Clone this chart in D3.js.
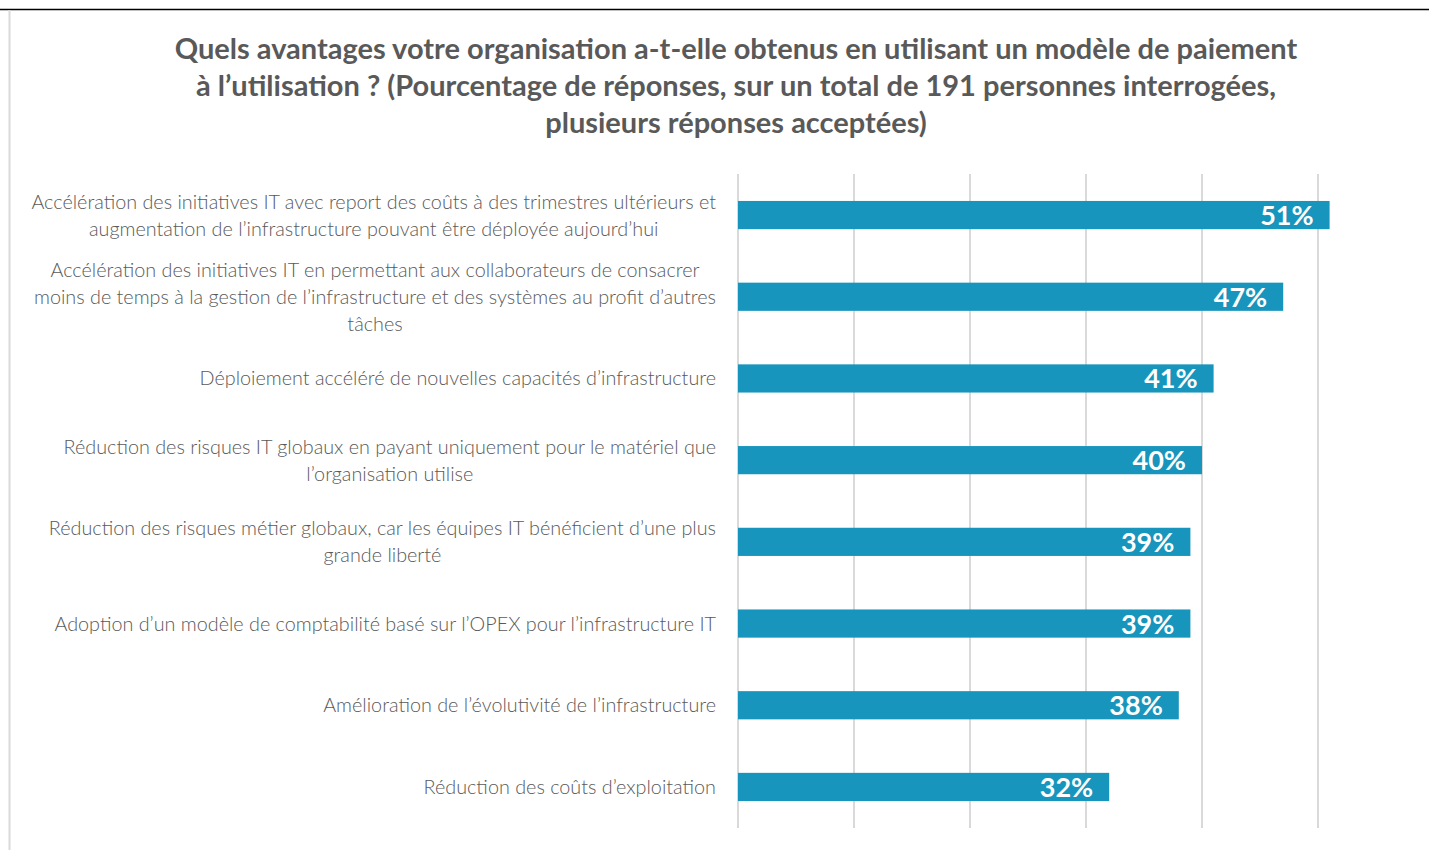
<!DOCTYPE html>
<html>
<head>
<meta charset="utf-8">
<script src="https://cdn.jsdelivr.net/npm/d3@7"></script>
<style>
  body { margin: 0; background: #fff; }
  svg { display: block; }
</style>
</head>
<body>
<div id="chart"></div>
<script>
// categories, one entry per bar, already broken into display lines
const categories = [
    ['Accélération des initiatives IT avec report des coûts à des trimestres ultérieurs et', 'augmentation de l’infrastructure pouvant être déployée aujourd’hui'],
    ['Accélération des initiatives IT en permettant aux collaborateurs de consacrer', 'moins de temps à la gestion de l’infrastructure et des systèmes au profit d’autres', 'tâches'],
    ['Déploiement accéléré de nouvelles capacités d’infrastructure'],
    ['Réduction des risques IT globaux en payant uniquement pour le matériel que', 'l’organisation utilise'],
    ['Réduction des risques métier globaux, car les équipes IT bénéficient d’une plus', 'grande liberté'],
    ['Adoption d’un modèle de comptabilité basé sur l’OPEX pour l’infrastructure IT'],
    ['Amélioration de l’évolutivité de l’infrastructure'],
    ['Réduction des coûts d’exploitation']
];
const values = [51, 47, 41, 40, 39, 39, 38, 32];
const gridTicks = [0, 10, 20, 30, 40, 50];
const titleLines = [
    'Quels avantages votre organisation a-t-elle obtenus en utilisant un modèle de paiement',
    'à l’utilisation ? (Pourcentage de réponses, sur un total de 191 personnes interrogées,',
    'plusieurs réponses acceptées)'
];

const width = 1429, height = 850;
const margin = {top: 174, right: 40, bottom: 22, left: 738};
const font = "'Source Sans Pro', 'Lato', sans-serif";

const svg = d3.select('#chart')
    .append('svg')
    .attr('width', width)
    .attr('height', height);

// frame: black rule at top, grey rule at left
svg.append('line')
    .attr('x1', 0).attr('x2', width)
    .attr('y1', 9.5).attr('y2', 9.5)
    .attr('stroke', '#000').attr('stroke-width', 1.5);
svg.append('line')
    .attr('x1', 9.5).attr('x2', 9.5)
    .attr('y1', 10).attr('y2', height)
    .attr('stroke', '#d9d9d9').attr('stroke-width', 2);

// title
svg.append('text')
    .attr('text-anchor', 'middle')
    .attr('font-family', font)
    .attr('font-weight', 700)
    .attr('font-size', 29)
    .attr('fill', '#595959')
    .selectAll('tspan')
    .data(titleLines)
    .join('tspan')
    .attr('x', 736)
    .attr('y', (d, i) => 59 + i * 37)
    .text(d => d);

const innerH = height - margin.top - margin.bottom;
const g = svg.append('g')
    .attr('transform', `translate(${margin.left},${margin.top})`);

const xScale = d3.scaleLinear()
    .domain([0, 50])
    .range([0, 580]);

const yScale = d3.scaleBand()
    .domain(d3.range(values.length))
    .range([0, innerH])
    .paddingInner(0.655)
    .paddingOuter(0.33);

// gridlines
g.selectAll('.grid')
    .data(gridTicks)
    .join('line')
    .attr('class', 'grid')
    .attr('x1', d => xScale(d)).attr('x2', d => xScale(d))
    .attr('y1', 0).attr('y2', innerH)
    .attr('stroke', '#d9d9d9')
    .attr('stroke-width', 2);

// bars
g.selectAll('.bar')
    .data(values)
    .join('rect')
    .attr('class', 'bar')
    .attr('x', 0)
    .attr('y', (d, i) => yScale(i))
    .attr('width', d => xScale(d))
    .attr('height', yScale.bandwidth())
    .attr('fill', '#1795bc');

// value labels
g.selectAll('.val')
    .data(values)
    .join('text')
    .attr('class', 'val')
    .attr('x', d => xScale(d) - 16)
    .attr('y', (d, i) => yScale(i) + yScale.bandwidth() / 2 + 10)
    .attr('text-anchor', 'end')
    .attr('font-family', font)
    .attr('font-weight', 700)
    .attr('font-size', 27)
    .attr('fill', '#fff')
    .text(d => d + '%');

// category labels: block right-aligned to the axis, lines centred inside it
const lineH = 27;
g.selectAll('.cat')
    .data(categories)
    .join('text')
    .attr('class', 'cat')
    .attr('text-anchor', 'middle')
    .attr('font-family', font)
    .attr('font-weight', 300)
    .attr('font-size', 19.8)
    .attr('fill', '#595959')
    .each(function(lines, i) {
        const text = d3.select(this);
        const cy = yScale(i) + yScale.bandwidth() / 2;
        const y0 = cy - (lines.length - 1) * lineH / 2 + 7;
        const spans = text.selectAll('tspan')
            .data(lines)
            .join('tspan')
            .attr('y', (d, j) => y0 + j * lineH)
            .text(d => d);
        const maxW = d3.max(spans.nodes(), n => n.getComputedTextLength());
        spans.attr('x', -22 - maxW / 2);
    });
</script>
</body>
</html>
